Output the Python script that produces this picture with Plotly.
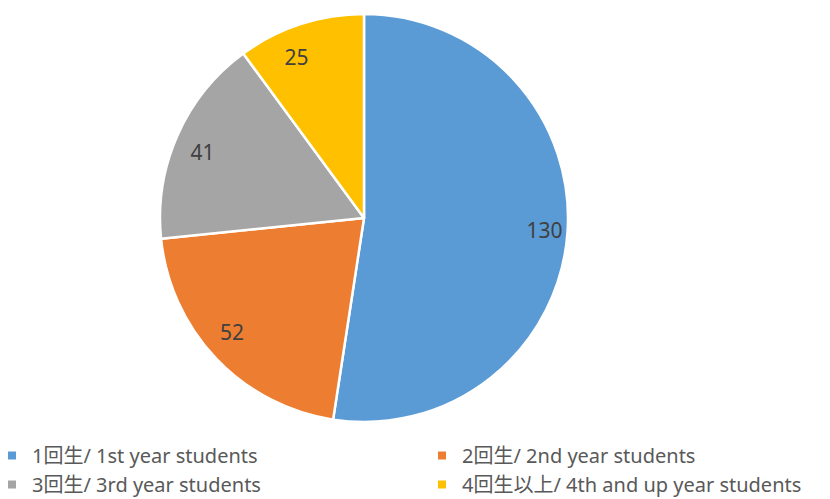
import plotly.graph_objects as go

categories = ["1回生/ 1st year students", "2回生/ 2nd year students",
              "3回生/ 3rd year students", "4回生以上/ 4th and up year students"]
values = [130, 52, 41, 25]
colors = ["#5B9BD5", "#ED7D31", "#A5A5A5", "#FFC000"]
legend_column = ["legend", "legend2", "legend", "legend2"]

W, H = 830, 499
cx, cy, r = 364, 218, 204
r_lab = 156

font_fam = "Noto Sans, Noto Sans CJK JP"


def dom(rad):
    return dict(x=[(cx - rad) / W, (cx + rad) / W],
                y=[(H - cy - rad) / H, (H - cy + rad) / H])


fig = go.Figure()
fig.add_trace(go.Pie(
    labels=categories, values=values, sort=False, direction="clockwise",
    rotation=0, marker=dict(colors=colors, line=dict(color="white", width=2.5)),
    textinfo="none", domain=dom(r), hoverinfo="label+value", showlegend=False,
))
fig.add_trace(go.Pie(
    labels=categories, values=values, sort=False, direction="clockwise",
    rotation=0, marker=dict(colors=["rgba(0,0,0,0)"] * len(values), line=dict(width=0)),
    textinfo="value", textposition="outside", automargin=False,
    textfont=dict(family=font_fam, size=21, color="#404040"),
    domain=dom(r_lab), hoverinfo="skip", showlegend=False,
))

# legend entries (two columns)
for name, col, lg in zip(categories, colors, legend_column):
    fig.add_trace(go.Scatter(
        x=[None], y=[None], mode="markers", name=name, legend=lg, legendgroup=name,
        marker=dict(symbol="square", size=8, color=col), hoverinfo="skip",
    ))

leg_common = dict(orientation="v", xanchor="left", yanchor="top", y=1 - 436 / H,
                  font=dict(family=font_fam, size=20, color="#595959"),
                  itemwidth=30, tracegroupgap=0, bgcolor="rgba(0,0,0,0)")

fig.update_layout(
    width=W, height=H, margin=dict(l=0, r=0, t=0, b=0, autoexpand=False),
    paper_bgcolor="white", plot_bgcolor="white",
    font=dict(family=font_fam, color="#595959"),
    xaxis=dict(visible=False), yaxis=dict(visible=False),
    legend=dict(x=-8 / W, **leg_common),
    legend2=dict(x=422 / W, **leg_common),
    showlegend=True,
)

fig.write_html("out.html", config={"displayModeBar": False},
               post_script="document.body.style.margin='0px';")
